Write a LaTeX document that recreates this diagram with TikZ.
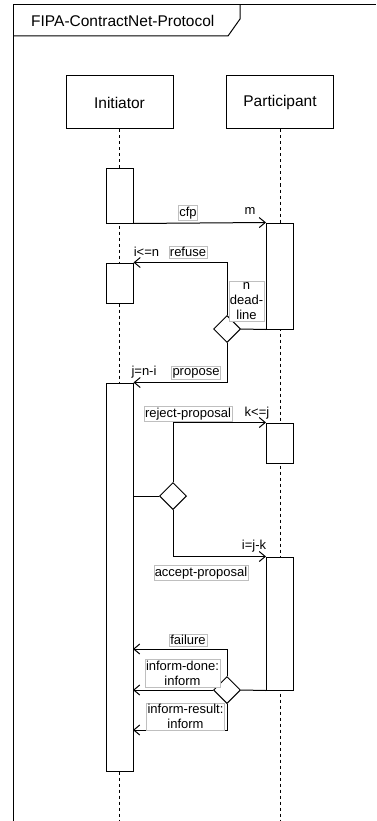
\documentclass[tikz,border=0pt]{standalone}
\usepackage{fontspec}
\setmainfont{Liberation Sans}
\usetikzlibrary{arrows.meta,shapes.geometric}
\begin{document}
\begin{tikzpicture}[x=1pt,y=-1pt,
  ln/.style={line width=1pt},
  head/.style={draw, line width=1pt, fill=white, minimum width=107pt, minimum height=53pt, inner sep=0pt, font=\fontsize{15.5}{18}\selectfont},
  act/.style={draw, line width=1pt, fill=white, minimum width=27pt, inner sep=0pt},
  life/.style={line width=0.8pt, dash pattern=on 3pt off 3pt},
  dia/.style={draw, line width=1pt, fill=white, diamond, minimum width=27pt, minimum height=27pt, inner sep=0pt},
  msg/.style={line width=1pt, -{Straight Barb[length=6pt,width=10pt,line width=1pt]}},
  lbl/.style={draw=black!25, fill=white, font=\fontsize{13}{15}\selectfont, inner xsep=1pt, inner ysep=1.5pt, align=center},
  txt/.style={font=\fontsize{13}{15}\selectfont, inner sep=0pt}
]
\useasboundingbox (0,0) rectangle (376,821);
% frame
\draw[ln] (13,821) -- (13,5) -- (376,5);
\draw[ln] (13,36) -- (228,36) -- (240,19) -- (240,5);
\node[font=\fontsize{15.5}{18}\selectfont, anchor=west, inner sep=0pt] (title) at (31,21) {FIPA-ContractNet-Protocol};
% heads
\node[head] (ini) at (119.5,102.5) {Initiator};
\node[head] (par) at (280,102.5) {Participant};
\coordinate (iniend) at (119.5,821);
\coordinate (parend) at (280,821);
\draw[life] (ini.south) -- (iniend);
\draw[life] (par.south) -- (parend);
% activations
\node[act, minimum height=54pt] (a1) at (119.5,196) {};
\node[act, minimum height=40pt] (a2) at (119.5,283) {};
\node[act, minimum height=388pt] (a3) at (119.5,577) {};
\node[act, minimum height=106pt] (p1) at (280,276) {};
\node[act, minimum height=40pt] (p2) at (280,443) {};
\node[act, minimum height=133pt] (p3) at (280,623.5) {};
% diamonds
\node[dia] (d1) at (227,329) {};
\node[dia] (d2) at (173,496) {};
\node[dia] (d3) at (227,690) {};
% messages
\draw[msg] (a1.south east) -- (p1.north west);
\draw[ln] (d1.east) -- (p1.south west);
\draw[msg] (d1.north) |- (a2.north east);
\draw[msg] (d1.south) |- (a3.north east);
\draw[ln] (a3.east |- d2.west) -- (d2.west);
\draw[msg] (d2.north) |- (p2.north west);
\draw[msg] (d2.south) |- (p3.north west);
\draw[ln] (d3.east) -- (p3.south west);
\coordinate (fail) at (133,649);
\coordinate (done) at (133,690);
\coordinate (result) at (133,730);
\draw[msg] (d3.north) |- (fail);
\draw[msg] (d3.west) -- (done);
\draw[msg] (d3.south) |- (result);
% labels
\node[lbl] (lcfp) at (188,213) {cfp};
\node[txt] (lm) at (250,211) {m};
\node[lbl] (lref) at (188,252) {refuse};
\node[txt] (lin) at (146.5,252) {i<=n};
\node[lbl] (ldl) at (246.5,301) {n\\dead-\\line};
\node[txt] (ljn) at (144,372) {j=n-i};
\node[lbl] (lprop) at (196,373) {propose};
\node[lbl] (lrej) at (188,414) {reject-proposal};
\node[txt] (lkj) at (257,413) {k<=j};
\node[txt] (lijk) at (254,546) {i=j-k};
\node[lbl] (lacc) at (201,573) {accept-proposal};
\node[lbl] (lfail) at (188,640) {failure};
\node[lbl] (ldone) at (182.5,673) {inform-done:\\inform};
\node[lbl] (lres) at (185.5,716.5) {inform-result:\\inform};
\end{tikzpicture}
\end{document}
